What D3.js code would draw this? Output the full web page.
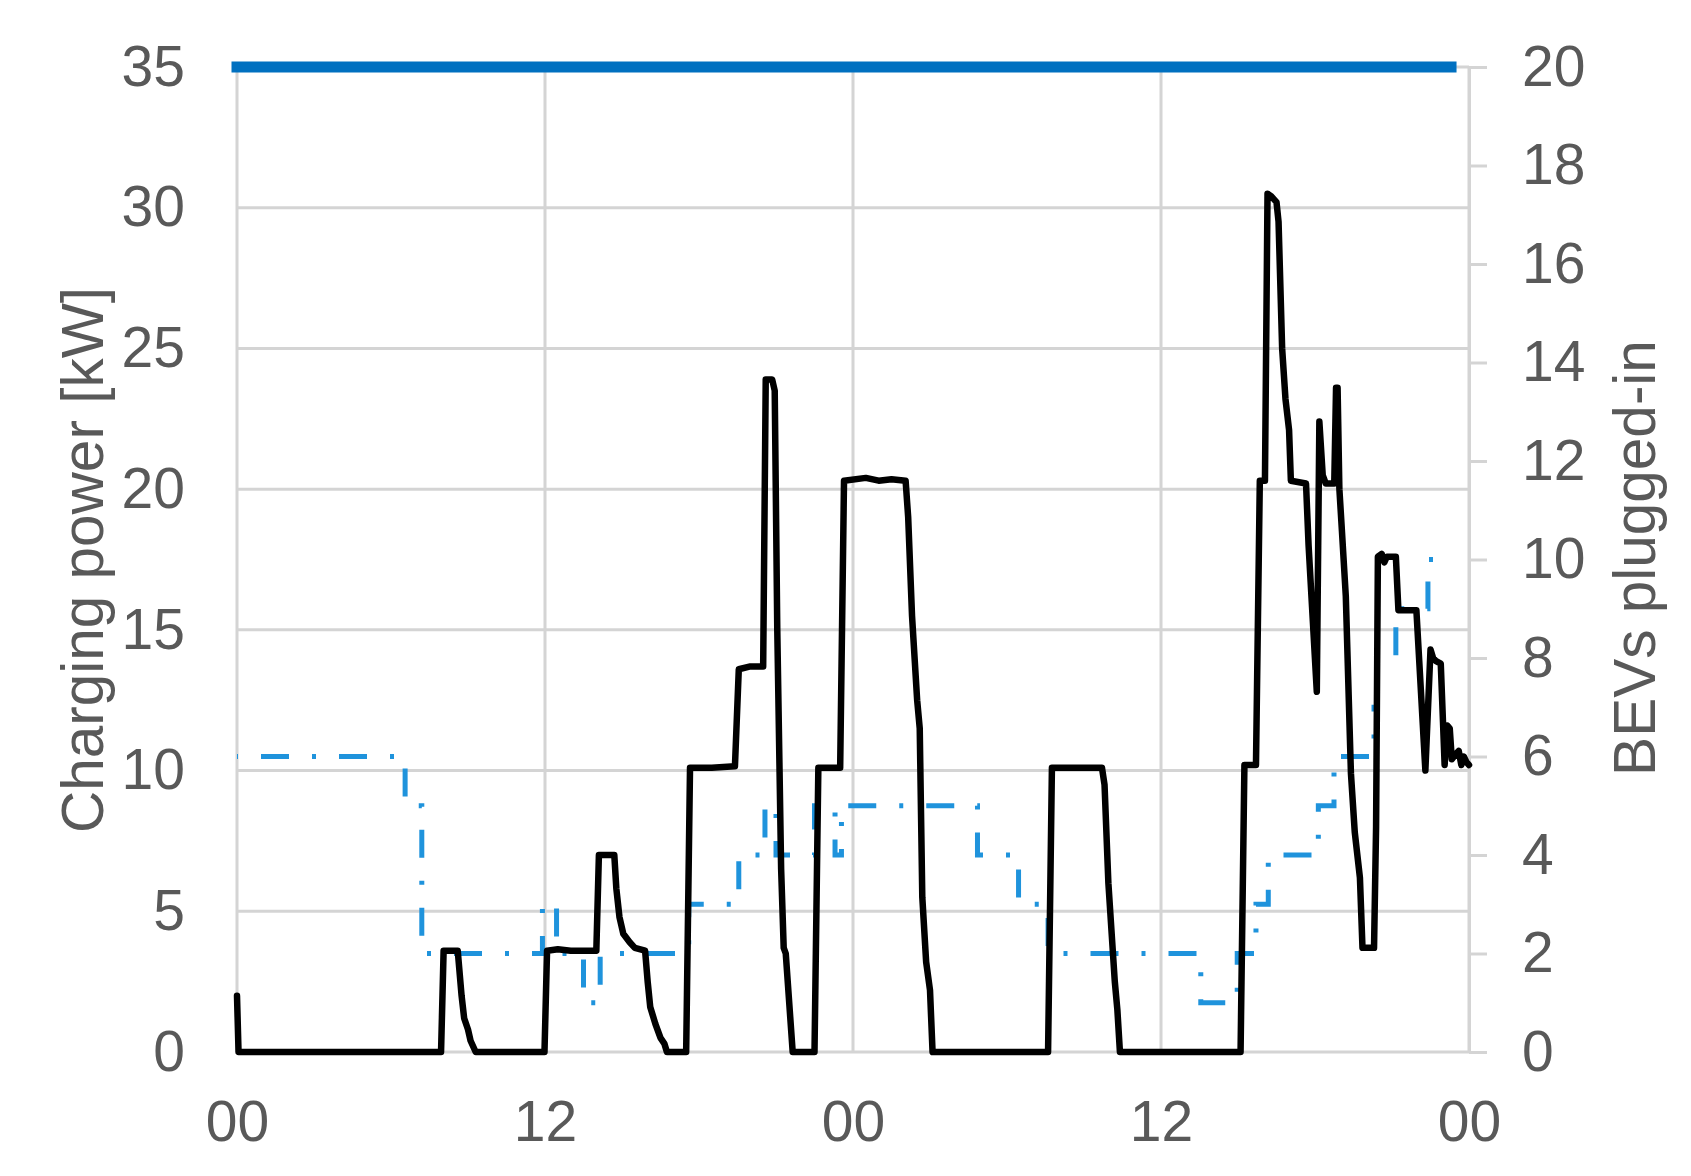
<!DOCTYPE html>
<html><head><meta charset="utf-8">
<script src="https://cdn.jsdelivr.net/npm/d3@7"></script>
<style>html,body{margin:0;padding:0;background:#fff;} svg{display:block;}</style>
</head><body>
<svg id="chart" width="1691" height="1176"></svg>
<script>
// ---- data ----
const xTickValues = [0, 12, 24, 36, 48];
const xTickLabels = ["00", "12", "00", "12", "00"];
const leftTicks = [0, 5, 10, 15, 20, 25, 30, 35];
const rightTicks = [0, 2, 4, 6, 8, 10, 12, 14, 16, 18, 20];

// charging power [kW] vs time [h]
const powerTime = [0, 0.06, 7.95, 8.05, 8.6, 8.75, 8.85, 9.0, 9.1, 9.3,
  11.98, 12.08, 12.5, 13.0, 13.5, 14.0, 14.1, 14.7, 14.78, 14.9, 15.05, 15.3, 15.5, 15.9,
  16.0, 16.1, 16.3, 16.5, 16.65, 16.75,
  17.5, 17.65, 18.5, 19.4, 19.55, 20.0, 20.5, 20.6, 20.85, 20.95, 21.05, 21.2, 21.3, 21.38, 21.65,
  22.5, 22.65, 23.5, 23.65, 24.5, 25.0, 25.5, 26.05, 26.15, 26.3, 26.5, 26.6, 26.7, 26.85, 27.0, 27.1,
  31.6, 31.75, 32.5, 33.7, 33.8, 33.95, 34.2, 34.3, 34.4,
  39.1, 39.25, 39.7, 39.85, 40.05, 40.15, 40.3, 40.5, 40.58, 40.72, 40.85, 40.99, 41.06, 41.65,
  41.75, 42.07, 42.17, 42.3, 42.42, 42.75, 42.82, 42.88, 42.95, 43.05, 43.2, 43.4, 43.55, 43.75,
  43.85, 44.3, 44.38, 44.45, 44.6, 44.7, 44.8, 45.15, 45.25, 45.95, 46.3, 46.5, 46.6, 46.7, 46.9,
  47.05, 47.15, 47.25, 47.33, 47.5, 47.6, 47.7, 47.8, 47.9, 48.0];
const powerKW = [2.0, 0, 0, 3.6, 3.6, 2.0, 1.2, 0.8, 0.4, 0,
  0, 3.6, 3.65, 3.6, 3.6, 3.6, 7.0, 7.0, 5.8, 4.8, 4.2, 3.9, 3.7, 3.6,
  2.5, 1.6, 1.0, 0.5, 0.3, 0,
  0, 10.1, 10.1, 10.15, 13.6, 13.7, 13.7, 23.9, 23.9, 23.5, 15, 6.5, 3.7, 3.5, 0,
  0, 10.1, 10.1, 20.3, 20.4, 20.3, 20.35, 20.3, 19, 15.5, 12.5, 11.5, 5.5, 3.2, 2.2, 0,
  0, 10.1, 10.1, 10.1, 9.5, 6.0, 2.5, 1.5, 0,
  0, 10.2, 10.2, 20.3, 20.3, 30.5, 30.4, 30.2, 29.5, 25, 23.2, 22.1, 20.3, 20.2,
  18, 12.8, 22.4, 20.5, 20.2, 20.2, 23.6, 23.6, 20.0, 18.5, 16.2, 9.9, 7.8, 6.2,
  3.7, 3.7, 8, 17.6, 17.7, 17.4, 17.6, 17.6, 15.7, 15.7, 10.0, 14.3, 14.0, 13.9, 13.8,
  10.2, 11.6, 11.5, 10.4, 10.6, 10.7, 10.2, 10.5, 10.3, 10.2];

// BEVs plugged-in (step function) vs time [h]
const bevTime = [0, 6.55, 7.2, 11.9, 12.45, 13.5, 14.15, 17.6, 19.55, 20.57, 21.0, 22.5, 23.3, 23.55,
  28.85, 30.45, 31.6, 37.55, 38.97, 39.7, 40.18, 42.13, 42.74, 44.3, 44.4, 45.15, 46.4, 47.33];
const bevCount = [6, 5, 2, 3, 2, 1, 2, 3, 4, 5, 4, 5, 4, 5,
  4, 3, 2, 1, 2, 3, 4, 5, 6, 7, 8, 9, 10, 10];

// grid connection limit [kW]
const limitTime = [0, 47.3];
const limitKW = [35, 35];

// ---- layout ----
const L = 237, R = 1469, T = 67, B = 1052;
const gridColor = "#d4d4d4", textColor = "#595959";
const fontFamily = "'Liberation Sans', Arial, sans-serif";
const fs = 57;

const svg = d3.select("#chart");
const x = d3.scaleLinear().domain([0, 48]).range([L, R]);
const yL = d3.scaleLinear().domain([0, 35]).range([B, T]);
const yR = d3.scaleLinear().domain([0, 20]).range([B, T]);

// gridlines
const grid = svg.append("g");
grid.selectAll("line.h").data(leftTicks).join("line")
  .attr("x1", L).attr("x2", R).attr("y1", d => yL(d)).attr("y2", d => yL(d))
  .attr("stroke", gridColor).attr("stroke-width", 3);
grid.selectAll("line.v").data(xTickValues).join("line")
  .attr("x1", d => x(d)).attr("x2", d => x(d)).attr("y1", T).attr("y2", B)
  .attr("stroke", gridColor).attr("stroke-width", 3);

// axes
const axL = svg.append("g").attr("transform", `translate(${L},0)`)
  .call(d3.axisLeft(yL).tickValues(leftTicks).tickSize(0).tickPadding(52));
axL.select(".domain").remove();

const axB = svg.append("g").attr("transform", `translate(0,${B})`)
  .call(d3.axisBottom(x).tickValues(xTickValues).tickSize(0).tickPadding(49)
    .tickFormat((d, i) => xTickLabels[i]));
axB.select(".domain").remove();

const axR = svg.append("g").attr("transform", `translate(${R},0)`)
  .call(d3.axisRight(yR).tickValues(rightTicks).tickSize(18).tickSizeOuter(0).tickPadding(35));
axR.select(".domain").attr("stroke", gridColor).attr("stroke-width", 3);
axR.selectAll(".tick line").attr("stroke", gridColor).attr("stroke-width", 3);

svg.selectAll(".tick text").attr("font-family", fontFamily).attr("font-size", fs)
  .attr("fill", textColor);

// axis titles
svg.append("text").attr("transform", `translate(103,560) rotate(-90)`)
  .attr("text-anchor", "middle").attr("font-family", fontFamily).attr("font-size", 58.5)
  .attr("fill", textColor).text("Charging power [kW]");
svg.append("text").attr("transform", `translate(1655,558) rotate(-90)`)
  .attr("text-anchor", "middle").attr("font-family", fontFamily).attr("font-size", 58.5)
  .attr("fill", textColor).text("BEVs plugged-in");

// BEV dash-dot step line
const bevData = bevTime.map((t, i) => [t, bevCount[i]]);
svg.append("path").datum(bevData)
  .attr("d", d3.line().x(d => x(d[0])).y(d => yR(d[1])).curve(d3.curveStepAfter))
  .attr("fill", "none").attr("stroke", "#1f93dc").attr("stroke-width", 5)
  .attr("stroke-dasharray", "28,23,4,23").attr("stroke-dashoffset", 54);

// charging power line
const powerData = powerTime.map((t, i) => [t, powerKW[i]]);
svg.append("path").datum(powerData)
  .attr("d", d3.line().x(d => x(d[0])).y(d => yL(d[1])))
  .attr("fill", "none").attr("stroke", "#000").attr("stroke-width", 6.5)
  .attr("stroke-linejoin", "round").attr("stroke-linecap", "round");

// limit line
const limitData = limitTime.map((t, i) => [t, limitKW[i]]);
svg.append("path").datum(limitData)
  .attr("d", d3.line().x(d => x(d[0])).y(d => yL(d[1])))
  .attr("fill", "none").attr("stroke", "#0070c0").attr("stroke-width", 11)
  .attr("stroke-linecap", "square");
</script>
</body></html>
